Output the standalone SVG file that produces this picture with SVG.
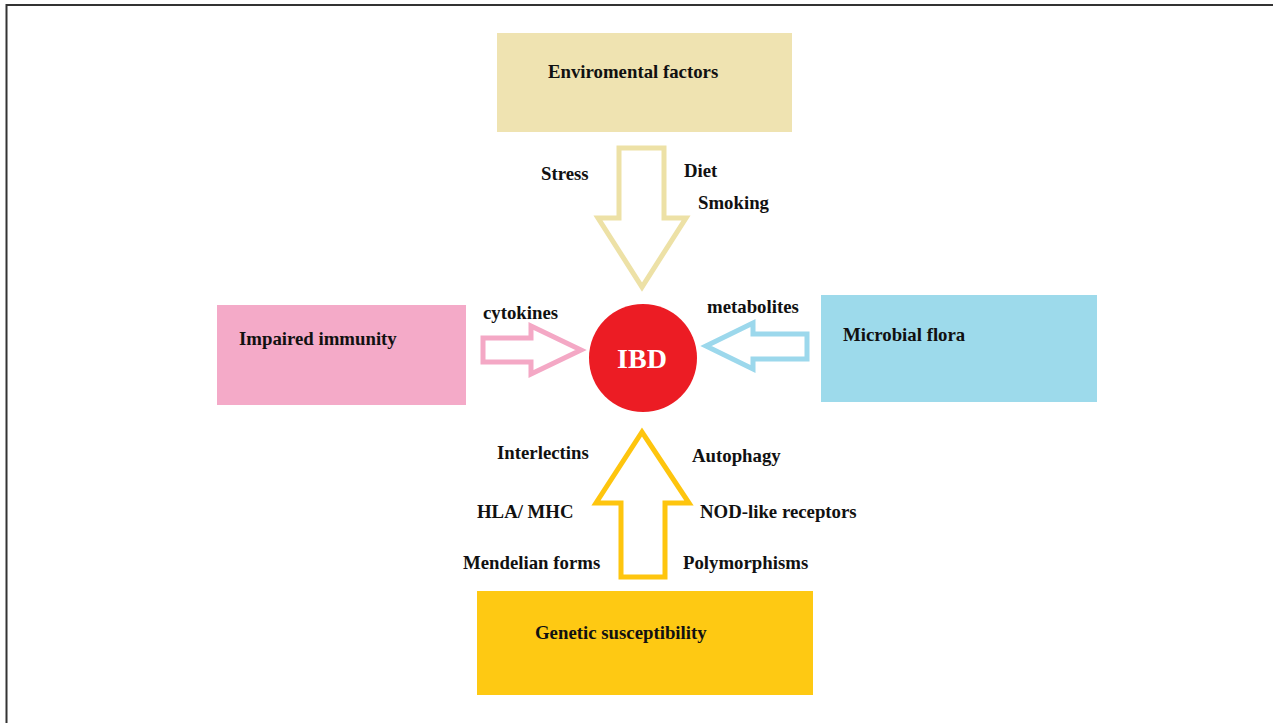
<svg xmlns="http://www.w3.org/2000/svg" width="1273" height="723" viewBox="0 0 1273 723">
  <style>
    .lbl { font-family: "Liberation Serif", "Times New Roman", serif; font-weight: bold; font-size: 18.8px; fill: #111111; }
    .arrow { fill: #ffffff; stroke-width: 5; stroke-linejoin: miter; }
  </style>
  <rect x="0" y="0" width="1273" height="723" fill="#ffffff"/>
  <!-- outer frame -->
  <path d="M6.5 723 V5 H1273" fill="none" stroke="#333333" stroke-width="2"/>

  <g id="environmental">
    <rect x="497" y="33" width="295" height="99" fill="#efe3b1"/>
    <text class="lbl" x="548" y="78">Enviromental factors</text>
  </g>

  <g id="immunity">
    <rect x="217" y="305" width="249" height="100" fill="#f4aac8"/>
    <text class="lbl" x="239" y="345">Impaired immunity</text>
  </g>

  <g id="microbial">
    <rect x="821" y="295" width="276" height="107" fill="#9ddaeb"/>
    <text class="lbl" x="843" y="341">Microbial flora</text>
  </g>

  <g id="genetic">
    <rect x="477" y="591" width="336" height="104" fill="#fec913"/>
    <text class="lbl" x="535" y="639">Genetic susceptibility</text>
  </g>

  <g id="ibd">
    <circle cx="643" cy="358" r="54" fill="#ec1c24"/>
    <text x="642" y="368" text-anchor="middle" font-family="Liberation Serif, Times New Roman, serif" font-weight="bold" font-size="28" fill="#ffffff">IBD</text>
  </g>

  <g id="connectors">
    <!-- environment -> IBD -->
    <polygon class="arrow" stroke="#ede1a6" points="619,148 664,148 664,218 686,218 642,287 598,218 619,218"/>
    <!-- immunity -> IBD -->
    <polygon class="arrow" stroke="#f4a8c5" points="483,338 531,338 531,326 581,350 531,374 531,362 483,362"/>
    <!-- microbial flora -> IBD -->
    <polygon class="arrow" stroke="#9cd8ec" points="807,334 753,334 753,323 706,346 753,369 753,359 807,359"/>
    <!-- genetics -> IBD -->
    <polygon class="arrow" stroke="#fec50e" points="621,577 665,577 665,503 689,503 642,432 596,503 621,503"/>
  </g>

  <g id="labels">
    <text class="lbl" x="541" y="180">Stress</text>
    <text class="lbl" x="684" y="177">Diet</text>
    <text class="lbl" x="698" y="209">Smoking</text>
    <text class="lbl" x="483" y="319">cytokines</text>
    <text class="lbl" x="707" y="313">metabolites</text>
    <text class="lbl" x="497" y="459">Interlectins</text>
    <text class="lbl" x="692" y="462">Autophagy</text>
    <text class="lbl" x="477" y="518">HLA/ MHC</text>
    <text class="lbl" x="700" y="518">NOD-like receptors</text>
    <text class="lbl" x="463" y="569">Mendelian forms</text>
    <text class="lbl" x="683" y="569">Polymorphisms</text>
  </g>
</svg>
